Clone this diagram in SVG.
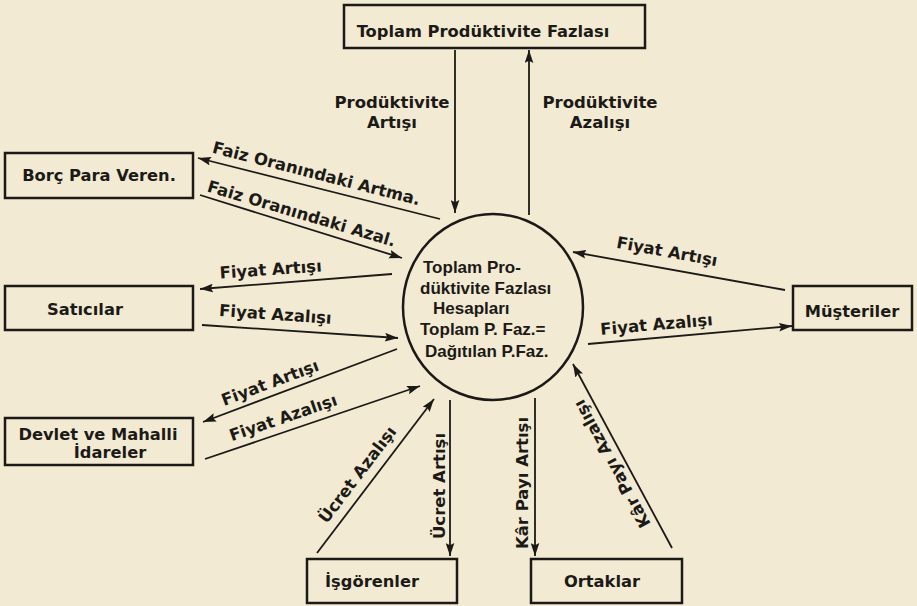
<svg xmlns="http://www.w3.org/2000/svg" width="917" height="606" viewBox="0 0 917 606">
<defs>
<marker id="ah" viewBox="0 0 12 8" refX="12" refY="4" markerWidth="13" markerHeight="9" markerUnits="userSpaceOnUse" orient="auto">
<path d="M0,0 L12,4 L0,8 L2,4 z" fill="#1c1a17"/>
</marker>
<style>
.box{fill:none;stroke:#1c1a17;stroke-width:2.5}
.bt{font-family:"DejaVu Sans","Liberation Sans",sans-serif;font-weight:bold;font-size:16.3px;fill:#1c1a17;text-anchor:middle}
.lb{font-family:"DejaVu Sans","Liberation Sans",sans-serif;font-weight:bold;font-size:16.5px;fill:#1c1a17;text-anchor:middle}
.ct{font-family:"Liberation Sans","DejaVu Sans",sans-serif;font-weight:bold;font-size:17px;fill:#1c1a17}
.cn line{stroke:#1c1a17;stroke-width:1.8;marker-end:url(#ah)}
</style>
</defs>
<rect width="917" height="606" fill="#f2ead3"/>

<g id="top">
<rect class="box" x="344" y="5" width="301" height="43"/>
<text class="bt" x="483" y="37">Toplam Prodüktivite Fazlası</text>
</g>
<g id="borc">
<rect class="box" x="5" y="153" width="188" height="45"/>
<text class="bt" x="99" y="181">Borç Para Veren.</text>
</g>
<g id="saticilar">
<rect class="box" x="5" y="286" width="188" height="44"/>
<text class="bt" x="85" y="315">Satıcılar</text>
</g>
<g id="devlet">
<rect class="box" x="5" y="418" width="188" height="47"/>
<text class="bt" x="98" y="440">Devlet ve Mahalli</text>
<text class="bt" x="110" y="458">İdareler</text>
</g>
<g id="musteriler">
<rect class="box" x="793" y="286" width="119" height="44"/>
<text class="bt" x="852" y="317">Müşteriler</text>
</g>
<g id="isgorenler">
<rect class="box" x="307" y="559" width="150" height="44"/>
<text class="bt" x="372" y="587">İşgörenler</text>
</g>
<g id="ortaklar">
<rect class="box" x="531" y="559" width="151" height="44"/>
<text class="bt" x="602" y="587">Ortaklar</text>
</g>
<g id="center">
<ellipse cx="493" cy="307" rx="90" ry="93" fill="none" stroke="#1c1a17" stroke-width="2.5"/>
<text class="ct" x="423" y="273">Toplam Pro-</text>
<text class="ct" x="420" y="294">düktivite Fazlası</text>
<text class="ct" x="433" y="314">Hesapları</text>
<text class="ct" x="420" y="335">Toplam P. Faz.=</text>
<text class="ct" x="425" y="357">Dağıtılan P.Faz.</text>
</g>

<g id="connectors" class="cn">
<line x1="455" y1="50" x2="455" y2="213"/>
<line x1="529" y1="215" x2="529" y2="50"/>
<line x1="440" y1="219" x2="198" y2="158"/>
<line x1="200" y1="195" x2="402" y2="258"/>
<line x1="392" y1="274" x2="200" y2="289"/>
<line x1="202" y1="325" x2="398" y2="338"/>
<line x1="397" y1="349" x2="203" y2="422"/>
<line x1="205" y1="459" x2="420" y2="386"/>
<line x1="785" y1="290" x2="573" y2="252"/>
<line x1="588" y1="344" x2="792" y2="326"/>
<line x1="317" y1="553" x2="434" y2="399"/>
<line x1="450" y1="400" x2="450" y2="556"/>
<line x1="535" y1="398" x2="535" y2="556"/>
<line x1="672" y1="548" x2="573" y2="364"/>
</g>

<g id="labels">
<text class="lb" x="392" y="108">Prodüktivite</text>
<text class="lb" x="392" y="128">Artışı</text>
<text class="lb" x="600" y="108">Prodüktivite</text>
<text class="lb" x="600" y="128">Azalışı</text>
<text class="lb" transform="translate(315,179) rotate(14.3)">Faiz Oranındaki Artma.</text>
<text class="lb" transform="translate(300,219) rotate(16.5)">Faiz Oranındaki Azal.</text>
<text class="lb" transform="translate(271,275) rotate(-4)">Fiyat Artışı</text>
<text class="lb" transform="translate(275,320) rotate(4)">Fiyat Azalışı</text>
<text class="lb" transform="translate(272,388) rotate(-20.5)">Fiyat Artışı</text>
<text class="lb" transform="translate(285,423) rotate(-19)">Fiyat Azalışı</text>
<text class="lb" transform="translate(666,257) rotate(10.3)">Fiyat Artışı</text>
<text class="lb" transform="translate(657,330) rotate(-5)">Fiyat Azalışı</text>
<text class="lb" transform="translate(362,478) rotate(-52.8)">Ücret Azalışı</text>
<text class="lb" transform="translate(445,486) rotate(-90)">Ücret Artışı</text>
<text class="lb" transform="translate(528,483) rotate(-90)">Kâr Payı Artışı</text>
<text class="lb" transform="translate(617,461) rotate(-118.5)">Kâr Payı Azalışı</text>
</g>
</svg>
